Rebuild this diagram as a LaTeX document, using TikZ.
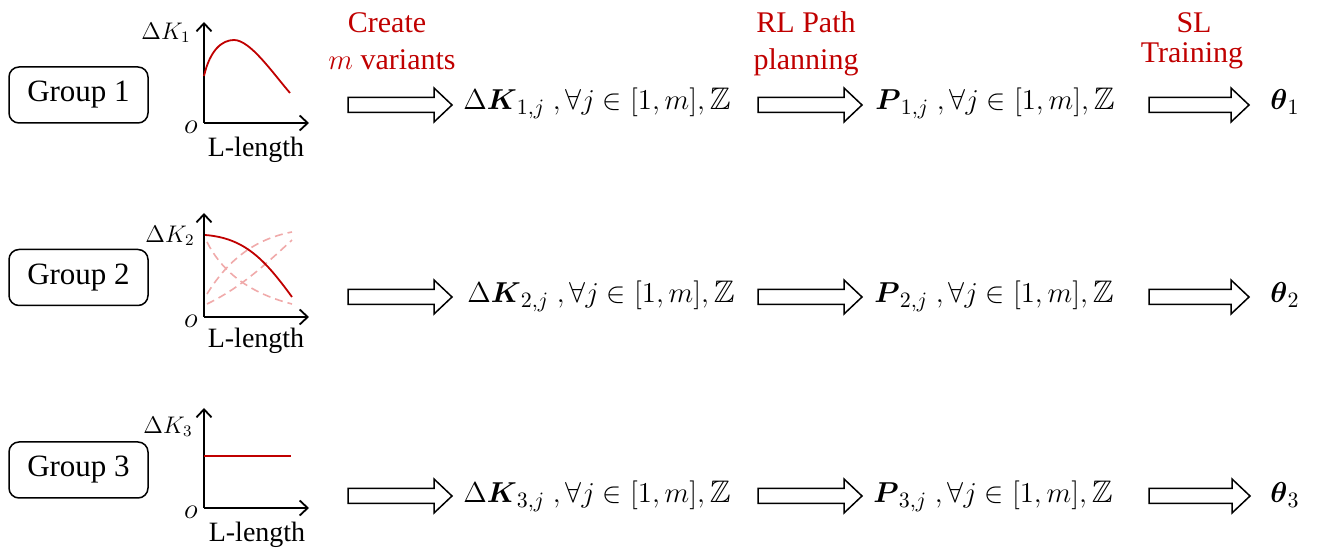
\documentclass[tikz,border=0pt]{standalone}
\usepackage{amsmath,amssymb}
\usepackage{fontspec}
\setmainfont{Liberation Serif}
\newfontfamily\tnr{Liberation Serif}
\usetikzlibrary{calc,arrows.meta}
\definecolor{myred}{RGB}{192,0,0}
\definecolor{mypink}{RGB}{240,170,170}
\newcommand\hollowarrow[2]{%
  \draw[harr] let \p1=(#1), \p2=(#2) in
    (\x1,\y1+3.75pt) -- (\x2-9pt,\y1+3.75pt) -- (\x2-9pt,\y1+8.5pt) -- (\x2,\y1)
    -- (\x2-9pt,\y1-8.5pt) -- (\x2-9pt,\y1-3.75pt) -- (\x1,\y1-3.75pt) -- cycle;}
\begin{document}
\begin{tikzpicture}[x=0.5pt,y=-0.5pt,
  grp/.style={draw, rounded corners=5pt, line width=0.75pt, minimum width=69.5pt,
    minimum height=28pt, inner sep=0pt, font=\tnr\fontsize{15.5}{18}\selectfont},
  axis/.style={line width=0.9pt, -{Straight Barb[length=4pt,width=7.5pt,line width=0.9pt]}},
  lbl/.style={font=\tnr\fontsize{14}{16}\selectfont, inner sep=0pt},
  klbl/.style={font=\fontsize{11.5}{14}\selectfont, inner sep=0pt},
  redlbl/.style={text=myred, font=\tnr\fontsize{15}{18.5}\selectfont, anchor=base, inner sep=0pt},
  mth/.style={font=\fontsize{15.6}{18}\selectfont, anchor=base west, inner sep=0pt},
  harr/.style={draw, line width=0.75pt, fill=white},
  curve/.style={myred, line width=0.9pt},
  dcurve/.style={mypink, line width=0.8pt, dash pattern=on 4pt off 2.5pt}]
\useasboundingbox (0,0) rectangle (1317,549);

% red step labels
\node[redlbl] (lab1a) at (387,33) {Create};
\node[redlbl] (lab1b) at (392,70) {$m$ variants};
\node[redlbl] (lab2a) at (806,33) {RL Path};
\node[redlbl] (lab2b) at (806,70) {planning};
\node[redlbl] (lab3a) at (1194,33) {SL};
\node[redlbl] (lab3b) at (1192,63) {Training};

% group boxes
\node[grp] (g1) at (78.5,95) {Group 1};
\node[grp] (g2) at (78.5,277.5) {Group 2};
\node[grp] (g3) at (78.5,470) {Group 3};

% chart 1
\coordinate (o1) at (204,123);
\coordinate (y1) at (204,22);
\coordinate (x1) at (309,123);
\draw[axis] (o1) -- (y1);
\draw[axis] (o1) -- (x1);
\draw[curve] (204,76) .. controls (210,50) and (222,40) .. (234,40)
  .. controls (250,40) and (272,72) .. (290,93);
\node[klbl] (dk1) at (166,33) {$\Delta K_1$};
\node[lbl] (on1) at (191,127) {$o$};
\node[lbl] (ll1) at (256,150) {L-length};

% chart 2
\coordinate (o2) at (204,317);
\coordinate (y2) at (204,213);
\coordinate (x2) at (309,317);
\draw[axis] (o2) -- (y2);
\draw[axis] (o2) -- (x2);
\draw[dcurve] (207,242) .. controls (220,268) and (245,292) .. (292,304);
\draw[dcurve] (207,294) .. controls (225,265) and (250,240) .. (292,232);
\draw[dcurve] (207,304) .. controls (240,288) and (265,265) .. (292,240);
\draw[curve] (205,235) .. controls (245,238) and (265,260) .. (292,297);
\node[klbl] (dk2) at (170,236) {$\Delta K_2$};
\node[lbl] (on2) at (191,321) {$o$};
\node[lbl] (ll2) at (256,341) {L-length};

% chart 3
\coordinate (o3) at (204,508);
\coordinate (y3) at (204,408);
\coordinate (x3) at (309,508);
\draw[axis] (o3) -- (y3);
\draw[axis] (o3) -- (x3);
\draw[curve] (204,456) -- (291,456);
\node[klbl] (dk3) at (168,427) {$\Delta K_3$};
\node[lbl] (on3) at (191,512) {$o$};
\node[lbl] (ll3) at (257,535) {L-length};

% row texts
\node[mth] (k1) at (463,110) {$\Delta\boldsymbol{K}_{1,j}\ ,\forall j\in[1,m],\mathbb{Z}$};
\node[mth] (k2) at (467,303) {$\Delta\boldsymbol{K}_{2,j}\ ,\forall j\in[1,m],\mathbb{Z}$};
\node[mth] (k3) at (463,503) {$\Delta\boldsymbol{K}_{3,j}\ ,\forall j\in[1,m],\mathbb{Z}$};
\node[mth] (p1) at (875,110) {$\boldsymbol{P}_{1,j}\ ,\forall j\in[1,m],\mathbb{Z}$};
\node[mth] (p2) at (874,303) {$\boldsymbol{P}_{2,j}\ ,\forall j\in[1,m],\mathbb{Z}$};
\node[mth] (p3) at (873,503) {$\boldsymbol{P}_{3,j}\ ,\forall j\in[1,m],\mathbb{Z}$};
\node[mth] (t1) at (1270,110) {$\boldsymbol{\theta}_1$};
\node[mth] (t2) at (1270,303) {$\boldsymbol{\theta}_2$};
\node[mth] (t3) at (1270,503) {$\boldsymbol{\theta}_3$};

% hollow arrows
\coordinate (a11s) at (348,105); \coordinate (a11e) at (452,105);
\coordinate (a12s) at (758,105); \coordinate (a12e) at (862,105);
\coordinate (a13s) at (1149,105); \coordinate (a13e) at (1249,105);
\coordinate (a21s) at (348,297); \coordinate (a21e) at (452,297);
\coordinate (a22s) at (758,297); \coordinate (a22e) at (862,297);
\coordinate (a23s) at (1149,297); \coordinate (a23e) at (1249,297);
\coordinate (a31s) at (348,496); \coordinate (a31e) at (452,496);
\coordinate (a32s) at (758,496); \coordinate (a32e) at (862,496);
\coordinate (a33s) at (1149,496); \coordinate (a33e) at (1250,496);
\hollowarrow{a11s}{a11e}\hollowarrow{a12s}{a12e}\hollowarrow{a13s}{a13e}
\hollowarrow{a21s}{a21e}\hollowarrow{a22s}{a22e}\hollowarrow{a23s}{a23e}
\hollowarrow{a31s}{a31e}\hollowarrow{a32s}{a32e}\hollowarrow{a33s}{a33e}
\end{tikzpicture}
\end{document}
